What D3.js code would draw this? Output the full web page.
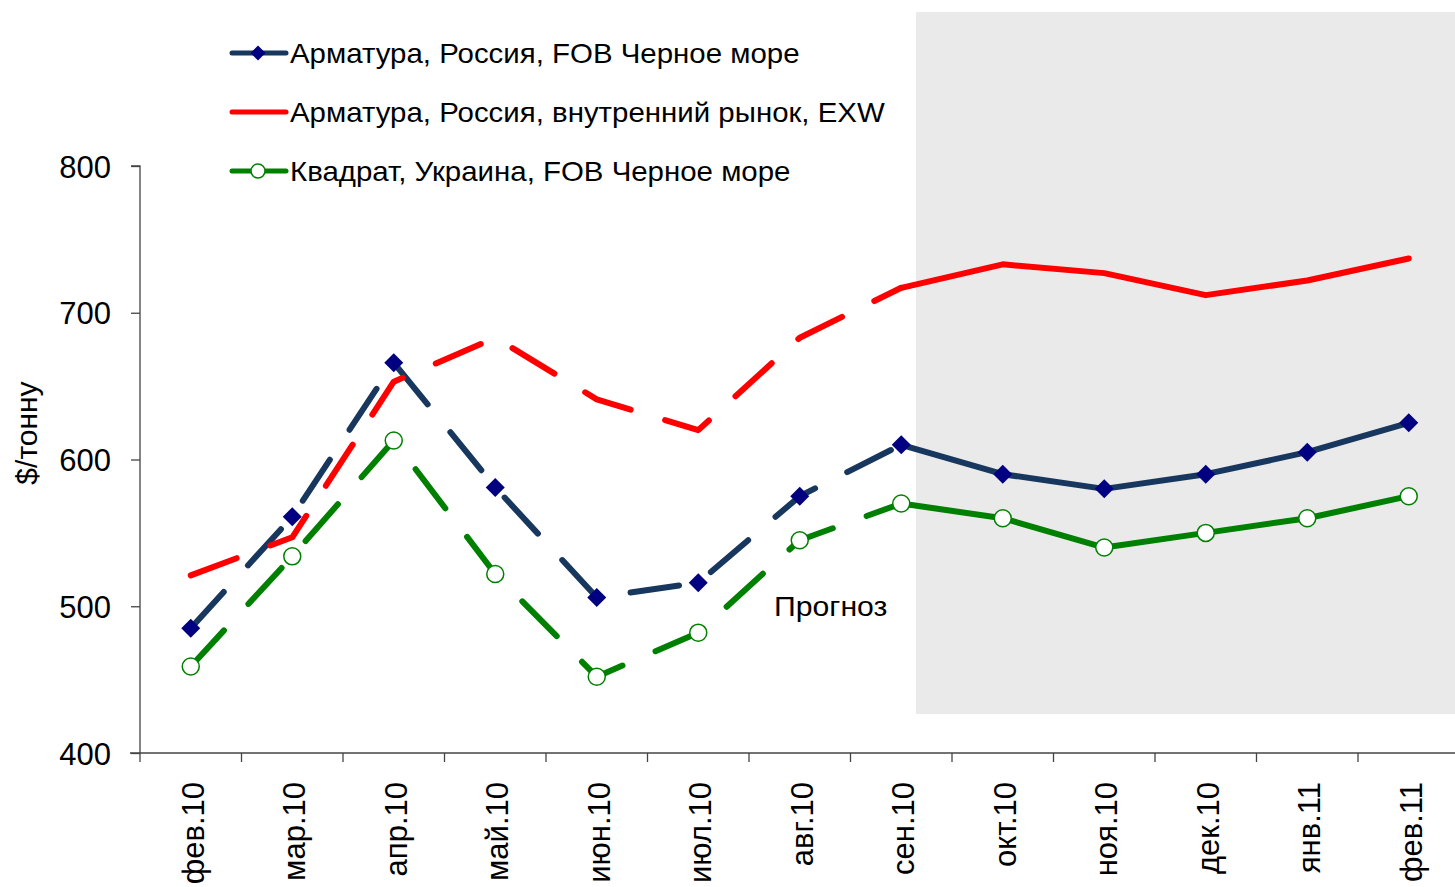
<!DOCTYPE html>
<html><head><meta charset="utf-8">
<script src="https://cdn.jsdelivr.net/npm/d3@7"></script>
<style>
html,body{margin:0;padding:0;background:#fff;}
svg text{font-family:"Liberation Sans",Arial,sans-serif;fill:#000;}
</style></head>
<body><svg id="c" width="1455" height="887"></svg>
<script>
const categories = ["фев.10","мар.10","апр.10","май.10","июн.10","июл.10","авг.10","сен.10","окт.10","ноя.10","дек.10","янв.11","фев.11"];
const rebarFOB = [485,561,666,581,506,516,575,610,590,580,590,605,625];
const rebarEXW = [521,547,653,683,641,620,683,717,733,727,712,722,737];
const billetUA = [459,534,613,522,452,482,545,570,560,540,550,560,575];
const yTicks = [400,500,600,700,800];
const seriesNames = ["Арматура, Россия, FOB Черное море","Арматура, Россия, внутренний рынок, EXW","Квадрат, Украина, FOB Черное море"];
const forecastStart = 7; // index of сен.10, solid from here on
const yLabel = "$/тонну";
const forecastLabel = "Прогноз";

const svg = d3.select("#c");
const L = 140, R = 1459.5, T = 166, B = 753;
const x = d3.scaleBand().domain(categories).range([L, R]);
const cx = d => x(d) + x.bandwidth()/2;
const y = d3.scaleLinear().domain([400,800]).range([B, T]);

// forecast shading
svg.append("rect").attr("x",916).attr("y",12).attr("width",1455-916).attr("height",714-12).attr("fill","#eaeaea");

// y axis
const ya = svg.append("g").attr("transform",`translate(${L},0)`)
  .call(d3.axisLeft(y).tickValues(yTicks).tickSize(9).tickPadding(20).tickFormat(d3.format("d")));
ya.select(".domain").attr("stroke","#444").attr("stroke-width",1.3).attr("d",`M-9,${y(800)}H0V${B}`);
ya.selectAll(".tick line").attr("stroke","#444").attr("stroke-width",1.3);
ya.selectAll(".tick text").attr("font-size",31).attr("font-family","Liberation Sans, Arial").attr("fill","#000").attr("dy","0.36em");

// x axis line and ticks at band boundaries
const xa = svg.append("g");
xa.append("line").attr("x1",L-10).attr("x2",1455).attr("y1",B).attr("y2",B).attr("stroke","#444").attr("stroke-width",1.3);
xa.selectAll("line.t").data(categories.concat(["end"])).join("line").attr("class","t")
  .attr("x1",(d,i)=> i<categories.length ? x(d) : R).attr("x2",(d,i)=> i<categories.length ? x(d) : R)
  .attr("y1",B).attr("y2",B+9).attr("stroke","#444").attr("stroke-width",1.3);
xa.selectAll("text").data(categories).join("text")
  .attr("transform",d=>`translate(${cx(d)+2},782) rotate(-90)`)
  .attr("text-anchor","end").attr("dy","0.36em").attr("font-size",31).text(d=>d);

// y label
svg.append("text").attr("transform",`translate(26,433) rotate(-90)`).attr("text-anchor","middle")
  .attr("dy","0.36em").attr("font-size",30).text(yLabel);

// forecast label
svg.append("text").attr("transform","translate(774,616) scale(1.12,1)").attr("font-size",27).text(forecastLabel);

const line = d3.line().x((d,i)=>d.x).y(d=>d.y);
const series = [
  {vals: rebarFOB, color:"#17375e", marker:"diamond"},
  {vals: rebarEXW, color:"#ff0000", marker:null},
  {vals: billetUA, color:"#008000", marker:"circle"}
];
const diamond = s => `M0,${-s}L${s},0L0,${s}L${-s},0Z`;

series.forEach(s=>{
  const pts = s.vals.map((v,i)=>({x:cx(categories[i]), y:y(v)}));
  svg.append("path").attr("d",line(pts.slice(0,forecastStart+1))).attr("fill","none")
    .attr("stroke",s.color).attr("stroke-width",6).attr("stroke-linecap","round").attr("stroke-linejoin","round")
    .attr("stroke-dasharray","49 36");
  svg.append("path").attr("d",line(pts.slice(forecastStart))).attr("fill","none")
    .attr("stroke",s.color).attr("stroke-width",6).attr("stroke-linecap","round").attr("stroke-linejoin","round");
  if(s.marker==="diamond"){
    svg.selectAll(null).data(pts).join("path").attr("transform",p=>`translate(${p.x},${p.y})`)
      .attr("d",diamond(9.5)).attr("fill","#000080");
  } else if(s.marker==="circle"){
    svg.selectAll(null).data(pts).join("circle").attr("cx",p=>p.x).attr("cy",p=>p.y).attr("r",8.5)
      .attr("fill","#fff").attr("stroke","#008000").attr("stroke-width",1.5);
  }
});

// legend
const lg = svg.append("g");
series.forEach((s,i)=>{
  const ly = 53 + i*59;
  lg.append("line").attr("x1",232).attr("x2",286).attr("y1",ly).attr("y2",ly).attr("stroke",s.color).attr("stroke-width",5).attr("stroke-linecap","round");
  if(s.marker==="diamond") lg.append("path").attr("transform",`translate(258,${ly})`).attr("d",diamond(7.5)).attr("fill","#000080");
  if(s.marker==="circle") lg.append("circle").attr("cx",258).attr("cy",ly).attr("r",7).attr("fill","#fff").attr("stroke","#008000").attr("stroke-width",1.5);
  lg.append("text").attr("transform",`translate(290,${ly}) scale(1.09,1)`).attr("dy","0.36em").attr("font-size",27).text(seriesNames[i]);
});
</script></body></html>
